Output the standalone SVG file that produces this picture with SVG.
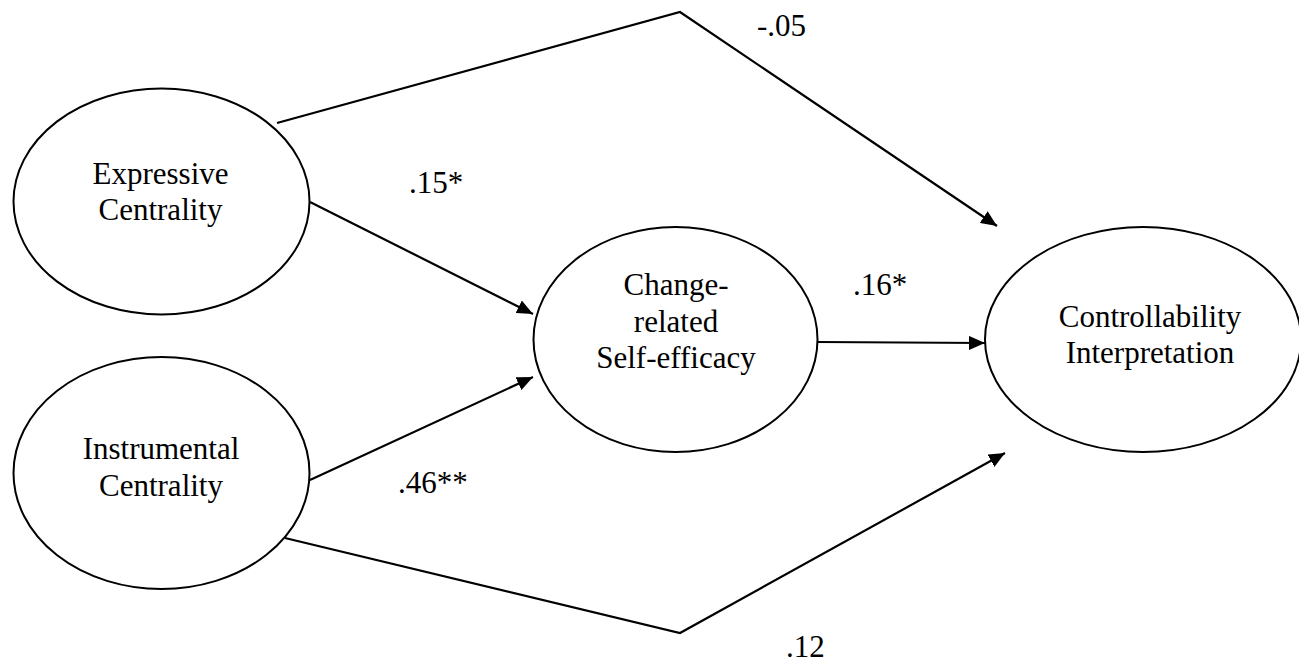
<svg xmlns="http://www.w3.org/2000/svg" width="1299" height="662" viewBox="0 0 1299 662">
<defs>
<marker id="arr" markerUnits="userSpaceOnUse" markerWidth="18" markerHeight="14" refX="16" refY="7" orient="auto">
<path d="M0,0 L16,7 L0,14 Z" fill="#000"/>
</marker>
</defs>
<style>
.node ellipse{fill:#fff;stroke:#000;stroke-width:2}
text{font-family:"Liberation Serif","Times New Roman",serif;font-size:31px;fill:#000}
.node text{text-anchor:middle}
.conn path,.conn line{fill:none;stroke:#000;stroke-width:2.2;marker-end:url(#arr)}
</style>
<rect width="1299" height="662" fill="#fff"/>
<g id="connectors" class="conn">
<path d="M277,123 L680,12 L997,226"/>
<line x1="310" y1="202" x2="533" y2="314"/>
<line x1="310" y1="480" x2="533" y2="377"/>
<line x1="818" y1="342" x2="985" y2="343"/>
<path d="M285,538 L680,633 L1005,453"/>
</g>
<g id="node-expressive" class="node">
<ellipse cx="161.5" cy="201.5" rx="148" ry="113"/>
<text x="160.5" y="184">Expressive</text>
<text x="160.5" y="220">Centrality</text>
</g>
<g id="node-instrumental" class="node">
<ellipse cx="161.5" cy="473" rx="148" ry="116"/>
<text x="161" y="459">Instrumental</text>
<text x="161" y="496">Centrality</text>
</g>
<g id="node-change" class="node">
<ellipse cx="675.5" cy="339.5" rx="142" ry="112.5"/>
<text x="676" y="295">Change-</text>
<text x="676" y="332">related</text>
<text x="676" y="368">Self-efficacy</text>
</g>
<g id="node-controllability" class="node">
<ellipse cx="1143" cy="339.5" rx="158" ry="112.5"/>
<text x="1150" y="327">Controllability</text>
<text x="1150" y="363">Interpretation</text>
</g>
<g id="labels">
<text x="757" y="36">-.05</text>
<text x="409" y="193">.15*</text>
<text x="853" y="295">.16*</text>
<text x="398" y="493">.46**</text>
<text x="786" y="657">.12</text>
</g>
</svg>
